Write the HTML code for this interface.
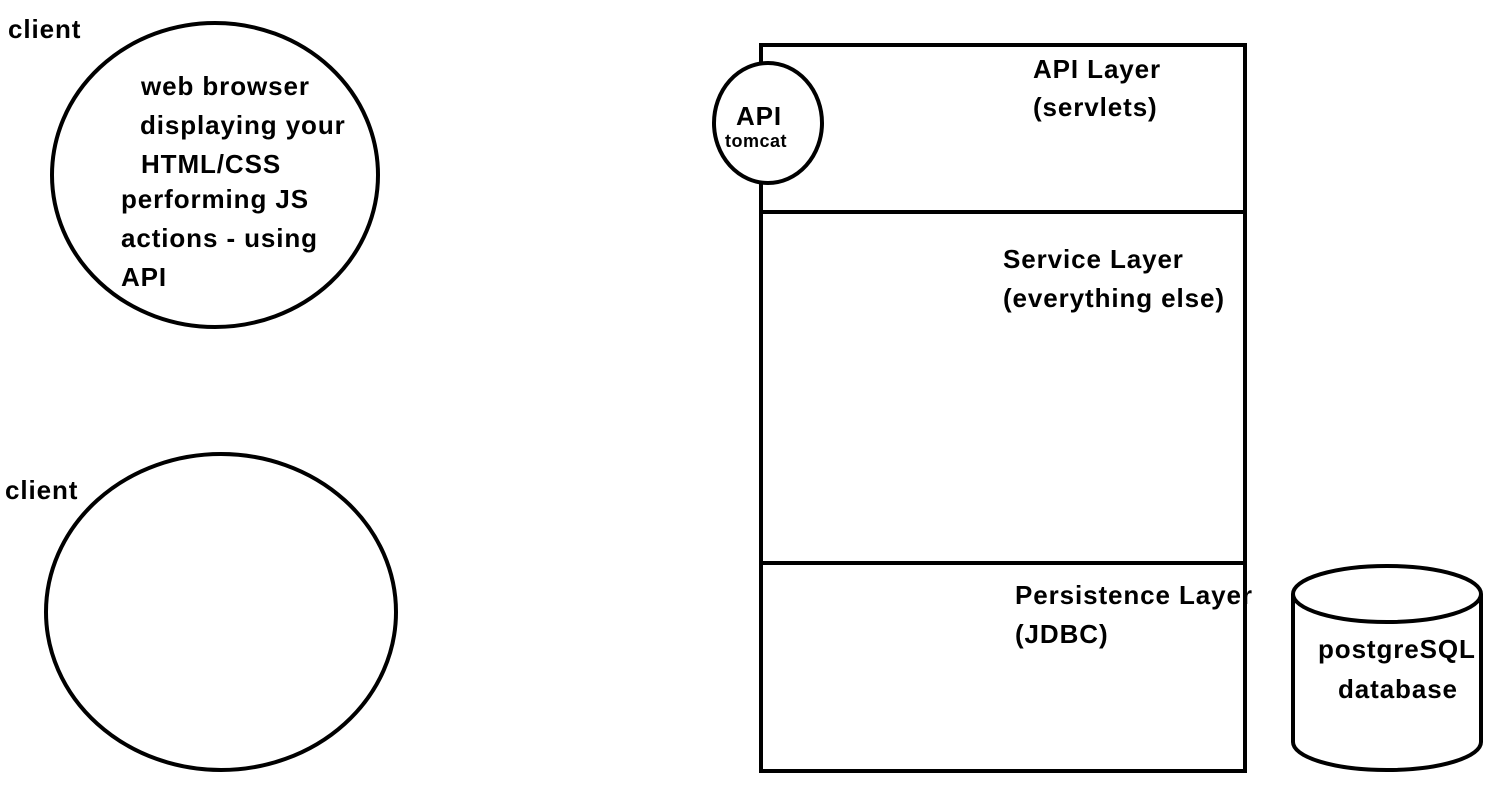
<!DOCTYPE html>
<html><head><meta charset="utf-8"><style>
html,body{margin:0;padding:0;background:#fff;}
svg{display:block}
text{font-family:"Liberation Sans",sans-serif;font-weight:bold;fill:#000;font-size:26px;letter-spacing:0.9px}
</style></head><body>
<svg width="1507" height="811" viewBox="0 0 1507 811" xmlns="http://www.w3.org/2000/svg">
<g fill="none" stroke="#000" stroke-width="4">
<ellipse cx="215" cy="175" rx="163" ry="152"/>
<ellipse cx="221" cy="612" rx="175" ry="158"/>
<rect x="761" y="45" width="484" height="726"/>
<line x1="761" y1="212" x2="1245" y2="212"/>
<line x1="761" y1="563" x2="1245" y2="563"/>
<path d="M1293 594 L1293 742 A94 28 0 0 0 1481 742 L1481 594"/>
<ellipse cx="1387" cy="594" rx="94" ry="28"/>
</g>
<ellipse cx="768" cy="123" rx="54" ry="60" fill="#fff" stroke="#000" stroke-width="4"/>
<text x="8" y="38">client</text>
<text x="5" y="499">client</text>
<text x="141" y="95">web browser</text>
<text x="140" y="134">displaying your</text>
<text x="141" y="173">HTML/CSS</text>
<text x="121" y="208">performing JS</text>
<text x="121" y="247">actions - using</text>
<text x="121" y="286">API</text>
<text x="736" y="125">API</text>
<text x="725" y="147" style="font-size:18px;letter-spacing:0.5px">tomcat</text>
<text x="1033" y="78">API Layer</text>
<text x="1033" y="116">(servlets)</text>
<text x="1003" y="268">Service Layer</text>
<text x="1003" y="307">(everything else)</text>
<text x="1015" y="604">Persistence Layer</text>
<text x="1015" y="643">(JDBC)</text>
<text x="1318" y="658">postgreSQL</text>
<text x="1338" y="698">database</text>
</svg>
</body></html>
